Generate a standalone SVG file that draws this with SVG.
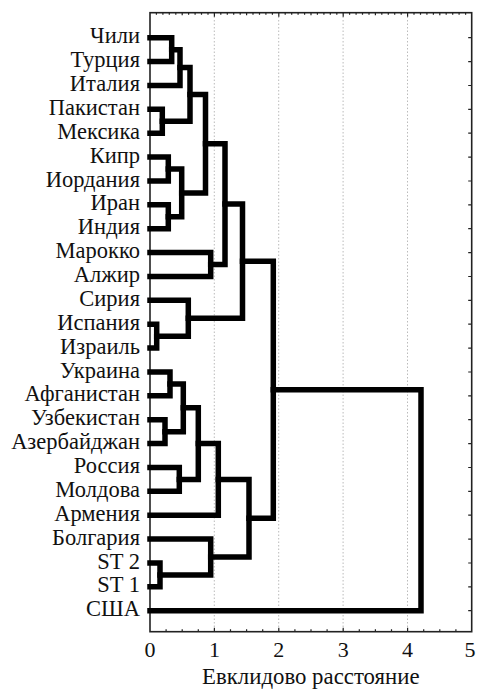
<svg xmlns="http://www.w3.org/2000/svg" width="477" height="689" viewBox="0 0 477 689">
<style>
  .lbl { font-family: "Liberation Serif", "DejaVu Serif", serif; font-size: 22.5px; fill: #111; text-anchor: end; }
  .num { font-family: "Liberation Serif", "DejaVu Serif", serif; font-size: 22px; fill: #111; text-anchor: middle; }
  .title { font-family: "Liberation Serif", "DejaVu Serif", serif; font-size: 22.8px; fill: #111; text-anchor: middle; }
  .grid { stroke: #bbb; stroke-width: 1; stroke-dasharray: 1.5 2; fill: none; }
  .frame { stroke: #222; stroke-width: 1.6; fill: none; }
  .tick { stroke: #222; stroke-width: 1.2; fill: none; }
  .den { stroke: #000; stroke-width: 5.5; fill: none; stroke-linejoin: miter; stroke-linecap: square; }
</style>
<rect width="477" height="689" fill="#fff"/>
<g id="axes">
  <g class="grid">
    <line x1="214.3" y1="13" x2="214.3" y2="632"/>
    <line x1="278.7" y1="13" x2="278.7" y2="632"/>
    <line x1="343.1" y1="13" x2="343.1" y2="632"/>
    <line x1="407.5" y1="13" x2="407.5" y2="632"/>
  </g>
  <rect class="frame" x="150" y="12.7" width="321.7" height="619"/>
  <path class="tick" d="M156.4,12.7v2 M162.9,12.7v2 M169.3,12.7v2 M175.8,12.7v2 M182.2,12.7v2.5 M188.6,12.7v2 M195.1,12.7v2 M201.5,12.7v2 M208,12.7v2 M214.4,12.7v4
  M220.8,12.7v2 M227.3,12.7v2 M233.7,12.7v2 M240.2,12.7v2 M246.6,12.7v2.5 M253,12.7v2 M259.5,12.7v2 M265.9,12.7v2 M272.4,12.7v2 M278.8,12.7v4
  M285.2,12.7v2 M291.7,12.7v2 M298.1,12.7v2 M304.6,12.7v2 M311,12.7v2.5 M317.4,12.7v2 M323.9,12.7v2 M330.3,12.7v2 M336.8,12.7v2 M343.2,12.7v4
  M349.6,12.7v2 M356.1,12.7v2 M362.5,12.7v2 M369,12.7v2 M375.4,12.7v2.5 M381.8,12.7v2 M388.3,12.7v2 M394.7,12.7v2 M401.2,12.7v2 M407.6,12.7v4
  M414,12.7v2 M420.5,12.7v2 M426.9,12.7v2 M433.4,12.7v2 M439.8,12.7v2.5 M446.2,12.7v2 M452.7,12.7v2 M459.1,12.7v2 M465.6,12.7v2"/>
  <path class="tick" d="M166.1,631.7v-2.5 M182.2,631.7v-2.5 M198.3,631.7v-2.5 M214.4,631.7v-4 M230.5,631.7v-2.5 M246.6,631.7v-2.5 M262.7,631.7v-2.5 M278.8,631.7v-4
  M294.9,631.7v-2.5 M311,631.7v-2.5 M327.1,631.7v-2.5 M343.2,631.7v-4 M359.3,631.7v-2.5 M375.4,631.7v-2.5 M391.5,631.7v-2.5 M407.6,631.7v-4
  M423.7,631.7v-2.5 M439.8,631.7v-2.5 M455.9,631.7v-2.5"/>
  <path class="tick" d="M471.7,37.7h-3.5 M471.7,61.6h-3.5 M471.7,85.5h-3.5 M471.7,109.3h-3.5 M471.7,133.2h-3.5 M471.7,157.1h-3.5 M471.7,181h-3.5 M471.7,204.8h-3.5 M471.7,228.7h-3.5 M471.7,252.6h-3.5 M471.7,276.5h-3.5 M471.7,300.3h-3.5 M471.7,324.2h-3.5 M471.7,348.1h-3.5 M471.7,372h-3.5 M471.7,395.8h-3.5 M471.7,419.7h-3.5 M471.7,443.6h-3.5 M471.7,467.5h-3.5 M471.7,491.3h-3.5 M471.7,515.2h-3.5 M471.7,539.1h-3.5 M471.7,563h-3.5 M471.7,586.8h-3.5 M471.7,610.7h-3.5"/>
  <text class="num" x="150" y="657">0</text>
  <text class="num" x="214.4" y="657">1</text>
  <text class="num" x="278.8" y="657">2</text>
  <text class="num" x="343.2" y="657">3</text>
  <text class="num" x="407.6" y="657">4</text>
  <text class="num" x="470" y="657">5</text>
  <text class="title" x="310.8" y="683.5">Евклидово расстояние</text>
</g>
<g id="leaves">
  <g id="leaf-chile"><text class="lbl" x="140" y="43.2">Чили</text></g>
  <g id="leaf-turkey"><text class="lbl" x="140" y="67.1">Турция</text></g>
  <g id="leaf-italy"><text class="lbl" x="140" y="91">Италия</text></g>
  <g id="leaf-pakistan"><text class="lbl" x="140" y="114.8">Пакистан</text></g>
  <g id="leaf-mexico"><text class="lbl" x="140" y="138.7">Мексика</text></g>
  <g id="leaf-cyprus"><text class="lbl" x="140" y="162.6">Кипр</text></g>
  <g id="leaf-jordan"><text class="lbl" x="140" y="186.5">Иордания</text></g>
  <g id="leaf-iran"><text class="lbl" x="140" y="210.3">Иран</text></g>
  <g id="leaf-india"><text class="lbl" x="140" y="234.2">Индия</text></g>
  <g id="leaf-morocco"><text class="lbl" x="140" y="258.1">Марокко</text></g>
  <g id="leaf-algeria"><text class="lbl" x="140" y="282">Алжир</text></g>
  <g id="leaf-syria"><text class="lbl" x="140" y="305.8">Сирия</text></g>
  <g id="leaf-spain"><text class="lbl" x="140" y="329.7">Испания</text></g>
  <g id="leaf-israel"><text class="lbl" x="140" y="353.6">Израиль</text></g>
  <g id="leaf-ukraine"><text class="lbl" x="140" y="377.5">Украина</text></g>
  <g id="leaf-afghanistan"><text class="lbl" x="140" y="401.3">Афганистан</text></g>
  <g id="leaf-uzbekistan"><text class="lbl" x="140" y="425.2">Узбекистан</text></g>
  <g id="leaf-azerbaijan"><text class="lbl" x="140" y="449.1">Азербайджан</text></g>
  <g id="leaf-russia"><text class="lbl" x="140" y="473">Россия</text></g>
  <g id="leaf-moldova"><text class="lbl" x="140" y="496.8">Молдова</text></g>
  <g id="leaf-armenia"><text class="lbl" x="140" y="520.7">Армения</text></g>
  <g id="leaf-bulgaria"><text class="lbl" x="140" y="544.6">Болгария</text></g>
  <g id="leaf-st2"><text class="lbl" x="140" y="568.5">ST 2</text></g>
  <g id="leaf-st1"><text class="lbl" x="140" y="592.3">ST 1</text></g>
  <g id="leaf-usa"><text class="lbl" x="140" y="616.2">США</text></g>
</g>
<g id="connectors" class="den">
  <path d="M150,37.7 H171.7 V61.6 H150"/>
  <path d="M171.7,49.65 H180 V85.5 H150"/>
  <path d="M150,109.3 H162.3 V133.2 H150"/>
  <path d="M180,67.6 H190 V121.25 H162.3"/>
  <path d="M150,157.1 H168.3 V181 H150"/>
  <path d="M150,204.8 H168.3 V228.7 H150"/>
  <path d="M168.3,169.05 H181.7 V216.75 H168.3"/>
  <path d="M190,94.4 H205.5 V192.9 H181.7"/>
  <path d="M150,252.6 H210.7 V276.5 H150"/>
  <path d="M205.5,143.65 H225 V264.55 H210.7"/>
  <path d="M150,324.2 H156.7 V348.1 H150"/>
  <path d="M150,300.3 H188.3 V336.15 H156.7"/>
  <path d="M225,204.1 H242.5 V318.2 H188.3"/>
  <path d="M150,372 H170 V395.8 H150"/>
  <path d="M150,419.7 H165 V443.6 H150"/>
  <path d="M170,383.9 H183.3 V431.65 H165"/>
  <path d="M150,467.5 H179.3 V491.3 H150"/>
  <path d="M183.3,407.8 H198.3 V479.4 H179.3"/>
  <path d="M198.3,443.6 H218.3 V515.2 H150"/>
  <path d="M150,563 H160 V586.8 H150"/>
  <path d="M150,539.1 H210.7 V574.9 H160"/>
  <path d="M218.3,479.4 H249 V557 H210.7"/>
  <path d="M242.5,261.15 H273.3 V518.2 H249"/>
  <path d="M273.3,389.7 H421 V610.7 H150"/>
</g>
</svg>
